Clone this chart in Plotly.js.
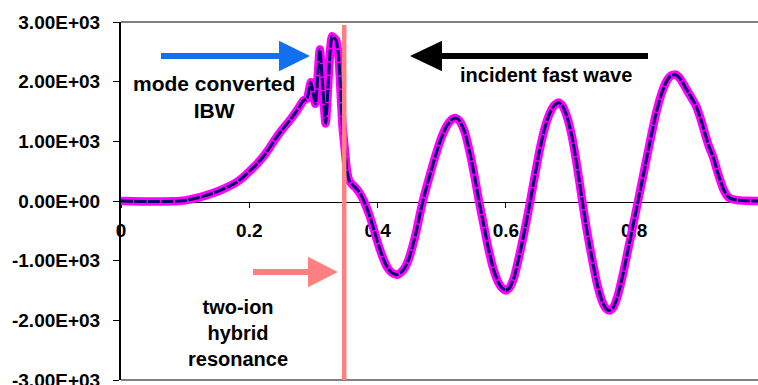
<!DOCTYPE html>
<html><head><meta charset="utf-8">
<script src="https://cdn.plot.ly/plotly-3.0.1.min.js"></script>
<style>html,body{margin:0;padding:0;background:#fff}</style>
</head><body>
<div id="chart" style="width:758px;height:385px"></div>
<script>
// ---- data ----
const xPos = [0, 0.02, 0.04, 0.06, 0.08, 0.09, 0.10, 0.11, 0.12, 0.13, 0.14, 0.15, 0.16, 0.17, 0.18, 0.19, 0.20, 0.21, 0.22, 0.23, 0.24, 0.25, 0.26, 0.268, 0.277, 0.284, 0.290, 0.296, 0.303, 0.310, 0.319, 0.329, 0.335, 0.339, 0.342, 0.345, 0.349, 0.352, 0.356, 0.361, 0.366, 0.371, 0.376, 0.381, 0.387, 0.393, 0.400, 0.408, 0.415, 0.422, 0.430, 0.437, 0.443, 0.449, 0.455, 0.461, 0.466, 0.471, 0.478, 0.488, 0.498, 0.508, 0.516, 0.522, 0.528, 0.536, 0.544, 0.551, 0.558, 0.565, 0.572, 0.580, 0.588, 0.595, 0.600, 0.606, 0.613, 0.620, 0.628, 0.638, 0.645, 0.652, 0.660, 0.668, 0.675, 0.682, 0.688, 0.695, 0.703, 0.711, 0.719, 0.726, 0.734, 0.742, 0.750, 0.756, 0.761, 0.767, 0.774, 0.782, 0.790, 0.798, 0.806, 0.815, 0.824, 0.833, 0.842, 0.850, 0.857, 0.864, 0.871, 0.879, 0.886, 0.892, 0.897, 0.905, 0.910, 0.917, 0.923, 0.929, 0.934, 0.939, 0.944, 0.950, 0.960, 0.975, 0.993];
const fieldVals = [0, -5, -10, -10, -5, 0, 10, 30, 55, 85, 120, 160, 205, 255, 315, 395, 495, 600, 720, 865, 1030, 1180, 1310, 1420, 1560, 1680, 1720, 1990, 1630, 2540, 1300, 2760, 2700, 2450, 1900, 1300, 850, 520, 340, 270, 220, 150, 60, -60, -230, -435, -690, -940, -1110, -1200, -1235, -1190, -1110, -960, -740, -480, -220, 20, 300, 680, 1020, 1260, 1370, 1390, 1340, 1150, 800, 420, 0, -380, -760, -1120, -1360, -1470, -1500, -1450, -1270, -960, -560, 0, 420, 820, 1200, 1460, 1600, 1650, 1600, 1420, 1080, 580, 0, -480, -950, -1380, -1680, -1800, -1835, -1790, -1600, -1250, -840, -420, 0, 480, 960, 1420, 1780, 2000, 2100, 2120, 2060, 1920, 1790, 1680, 1580, 1330, 1140, 900, 740, 520, 350, 200, 100, 40, 15, 5, 0];
const resonanceX = 0.348;
const yTickVals = [3000, 2000, 1000, 0, -1000, -2000, -3000];
const yTickText = ['3.00E+03', '2.00E+03', '1.00E+03', '0.00E+00', '-1.00E+03', '-2.00E+03', '-3.00E+03'];
const xTickVals = [0, 0.2, 0.4, 0.6, 0.8];
const xTickText = ['0', '0.2', '0.4', '0.6', '0.8'];
const noteTexts = ['mode converted<br>IBW', 'incident fast wave', 'two-ion<br>hybrid<br>resonance'];

// ---- layout helpers (pixel -> paper) ----
const W = 758, H = 385, ML = 121, MR = 0, MT = 22, MB = 5;
const PW = W - ML - MR, PH = H - MT - MB;
const px = v => (v - ML) / PW;
const py = v => (H - MB - v) / PH;

function arrow(x0, x1, xb, xt, yc, half, color) {
  return [
    {type: 'line', xref: 'paper', yref: 'paper', x0: px(x0), x1: px(x1), y0: py(yc), y1: py(yc),
     line: {color: color, width: 6}},
    {type: 'path', xref: 'paper', yref: 'paper',
     path: `M ${px(xb)} ${py(yc - half)} L ${px(xt)} ${py(yc)} L ${px(xb)} ${py(yc + half)} Z`,
     fillcolor: color, line: {color: color, width: 0}}
  ];
}

const font = 'Liberation Sans, Arial, Helvetica, sans-serif';

const traces = [
  {x: xPos, y: fieldVals, type: 'scatter', mode: 'lines',
   line: {color: '#ff00ff', width: 8.5, shape: 'spline', smoothing: 0.5}, hoverinfo: 'skip'},
  {x: xPos, y: fieldVals, type: 'scatter', mode: 'lines',
   line: {color: '#00006b', width: 3, dash: '12px,1.5px', shape: 'spline', smoothing: 0.5}, hoverinfo: 'skip'}
];

const shapes = [
  {type: 'line', xref: 'paper', yref: 'paper', x0: 0, x1: 1, y0: 1, y1: 1, line: {color: '#808080', width: 2}},
  {type: 'line', xref: 'paper', yref: 'paper', x0: 0, x1: 1, y0: 0, y1: 0, line: {color: '#808080', width: 2}},
  {type: 'line', xref: 'x', yref: 'paper', x0: resonanceX, x1: resonanceX, y0: 0, y1: py(25),
   line: {color: '#ff8080', width: 4.5}},
  ...arrow(161, 282, 279, 310, 56, 15.3, '#1070f0'),
  ...arrow(648, 440, 442, 410, 56, 15.3, '#000000'),
  ...arrow(253, 310, 308, 338, 272, 15.3, '#ff8080')
];

const annFont = {family: font, size: 20, color: '#000', weight: 'bold'};
const annotations = [
  {xref: 'paper', yref: 'paper', x: px(214), y: py(97), text: noteTexts[0], showarrow: false,
   xanchor: 'center', yanchor: 'middle', font: {family: font, size: 21, color: '#000', weight: 'bold'}},
  {xref: 'paper', yref: 'paper', x: px(546), y: py(75), text: noteTexts[1], showarrow: false,
   xanchor: 'center', yanchor: 'middle', font: annFont},
  {xref: 'paper', yref: 'paper', x: px(237.5), y: py(333), text: noteTexts[2], showarrow: false,
   xanchor: 'center', yanchor: 'middle', font: annFont}
];

const layout = {
  width: W, height: H,
  margin: {l: ML, r: MR, t: MT, b: MB, pad: 0},
  paper_bgcolor: '#fff', plot_bgcolor: '#fff',
  showlegend: false,
  xaxis: {
    range: [0, (W - ML - MR) / 641.5], anchor: 'free', position: py(201.7),
    tickvals: xTickVals, ticktext: xTickText, ticks: 'outside', ticklen: 5, tickcolor: '#000',
    showline: true, linecolor: '#000', linewidth: 1, showgrid: false, zeroline: false,
    tickfont: {family: font, size: 19, color: '#000', weight: 'bold'}, ticklabelstandoff: 6,
    layer: 'below traces'
  },
  yaxis: {
    range: [-3000, 3000], tickvals: yTickVals, ticktext: yTickText, ticks: 'outside', ticklen: 6,
    tickcolor: '#000', showline: true, linecolor: '#000', linewidth: 2, showgrid: false, zeroline: false,
    tickfont: {family: font, size: 19, color: '#000', weight: 'bold'}, ticklabelstandoff: 9,
    ticklabeloverflow: 'allow'
  },
  shapes: shapes,
  annotations: annotations
};

Plotly.newPlot('chart', traces, layout, {displayModeBar: false, staticPlot: true});
</script>
</body></html>
